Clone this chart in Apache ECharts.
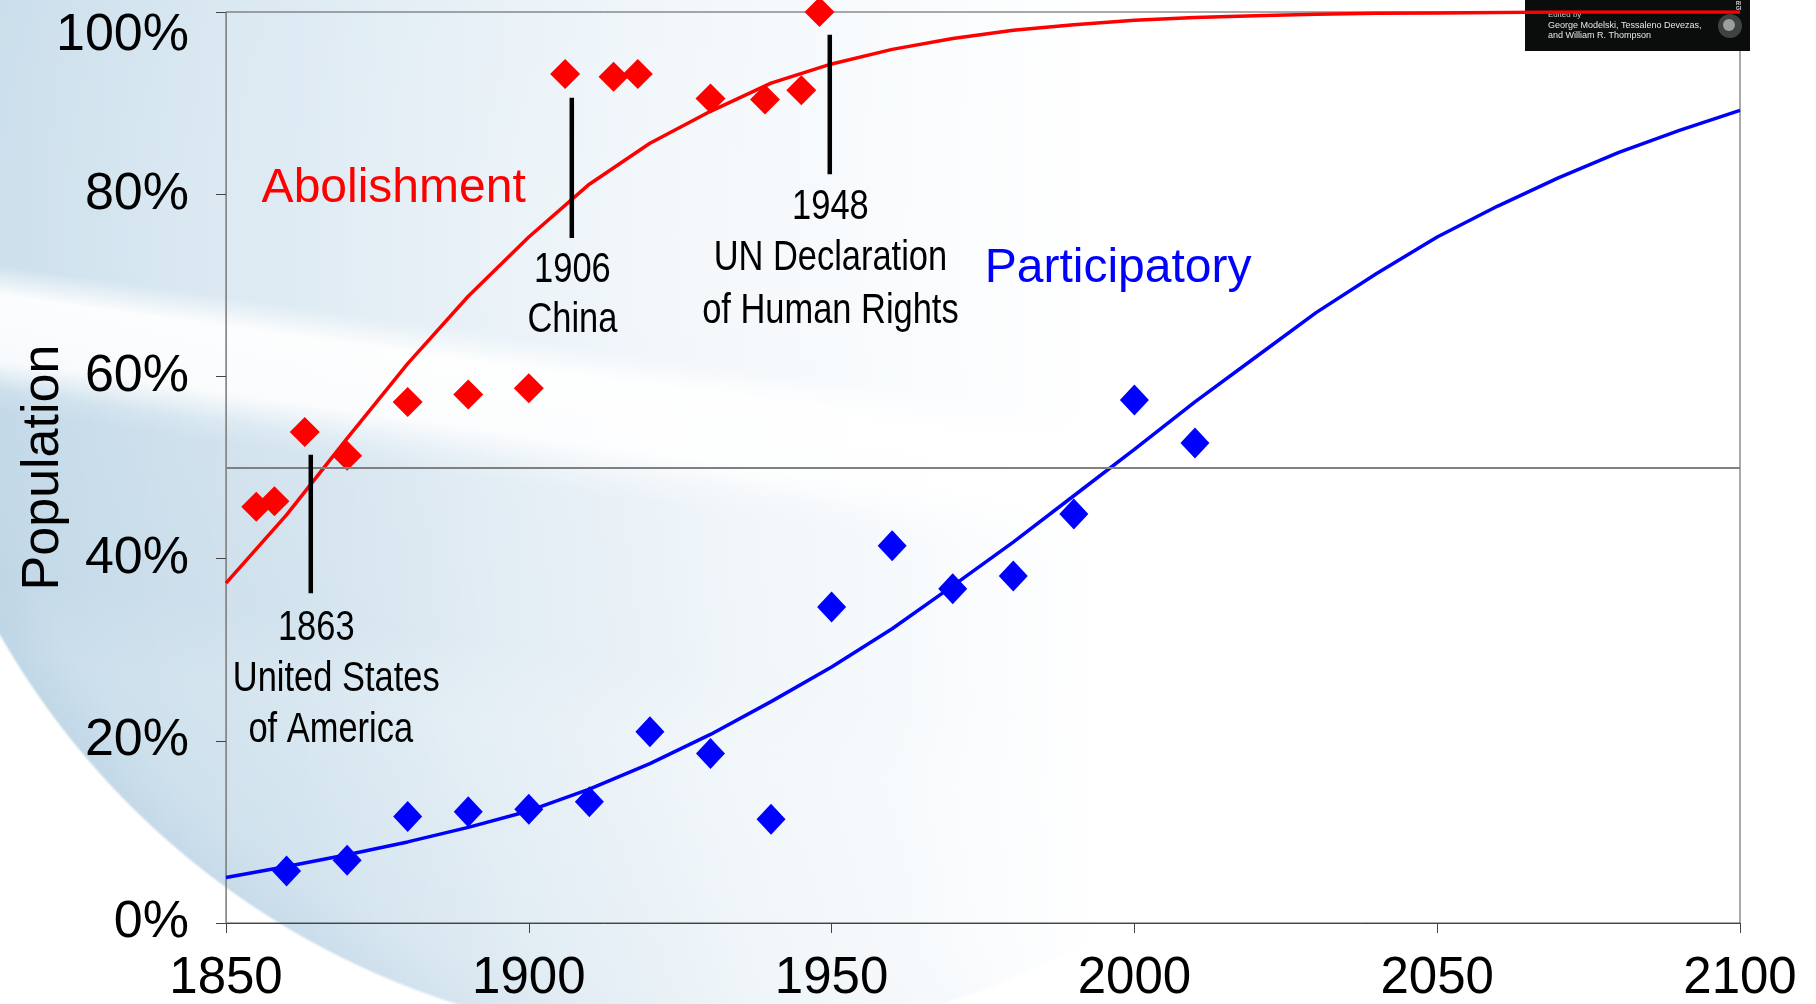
<!DOCTYPE html>
<html>
<head>
<meta charset="utf-8">
<title>Abolishment and Participatory</title>
<script src="https://cdn.jsdelivr.net/npm/echarts@6/dist/echarts.min.js"></script>
<style>
  html, body { margin: 0; padding: 0; background: #fff; }
  #chart {
    width: 1816px;
    height: 1004px;
    background:
      linear-gradient(to right, rgba(255,255,255,0) 0px, rgba(255,255,255,0.15) 300px, rgba(255,255,255,0.7) 750px, #fff 1100px),
      linear-gradient(188deg, rgba(255,255,255,0) 515px, rgba(255,255,255,0.92) 545px, rgba(255,255,255,0.85) 610px, rgba(255,255,255,0) 640px),
      linear-gradient(188deg, rgba(160,192,216,0) 640px, rgba(160,192,216,0.18) 660px, rgba(160,192,216,0.18) 820px, rgba(160,192,216,0) 900px),
      radial-gradient(circle 804px at 700px 236px, #e1edf5 0%, #d8e7f1 60%, #cadeeb 94%, #c0d7e7 100%, #ffffff 100.4%);
  }
</style>
</head>
<body>
<div id="chart"></div>
<script>
  // fitted curves, read every 10 years
  var curveYears = [1850, 1860, 1870, 1880, 1890, 1900, 1910, 1920, 1930, 1940, 1950, 1960, 1970,
    1980, 1990, 2000, 2010, 2020, 2030, 2040, 2050, 2060, 2070, 2080, 2090, 2100];
  var abolishmentFit = [37.3, 44.8, 53.2, 61.4, 68.8, 75.3, 81.1, 85.6, 89.1, 92.2, 94.3, 95.9, 97.1,
    98.0, 98.6, 99.1, 99.4, 99.6, 99.75, 99.85, 99.9, 99.95, 100, 100, 100, 100];
  var participatoryFit = [5.0, 6.2, 7.5, 8.9, 10.5, 12.3, 14.7, 17.5, 20.7, 24.3, 28.1, 32.3, 37.0,
    41.8, 46.9, 52.0, 57.2, 62.1, 67.0, 71.3, 75.3, 78.7, 81.8, 84.6, 87.0, 89.2];

  // observed points
  var abolishmentYears = [1855, 1858, 1863, 1870, 1880, 1890, 1900, 1906, 1914, 1918, 1930, 1939, 1945, 1948];
  var abolishmentValues = [45.7, 46.3, 53.9, 51.3, 57.2, 58.0, 58.7, 93.2, 92.9, 93.2, 90.5, 90.4, 91.4, 100];
  var participatoryYears = [1860, 1870, 1880, 1890, 1900, 1910, 1920, 1930, 1940, 1950, 1960, 1970, 1980, 1990, 2000, 2010];
  var participatoryValues = [5.7, 6.9, 11.7, 12.2, 12.5, 13.3, 21.0, 18.6, 11.4, 34.7, 41.4, 36.7, 38.1, 44.9, 57.4, 52.7];

  // event markers
  var eventYears = [1864.0, 1907.1, 1949.7];
  var eventLow = [36.2, 75.2, 82.2];
  var eventHigh = [51.4, 90.6, 97.5];

  var noteTexts = ['1863', 'United States', 'of America', '1906', 'China', '1948', 'UN Declaration', 'of Human Rights'];
  var noteYears = [1864.9, 1868.2, 1867.3, 1907.2, 1907.2, 1949.8, 1949.8, 1949.8];
  var noteValues = [32.3, 26.7, 21.1, 71.6, 66.1, 78.5, 72.9, 67.1];

  var seriesNames = ['Abolishment', 'Participatory'];
  var seriesNameYears = [1855.8, 1975.2];
  var seriesNameValues = [80.6, 71.8];
  var seriesColors = ['#ff0000', '#0000ff'];

  var yTicks = [0, 20, 40, 60, 80, 100];

  function zip(xs, ys) {
    var out = [];
    for (var i = 0; i < xs.length; i++) {
      out.push([xs[i], ys[i]]);
    }
    return out;
  }

  var sans = '"Liberation Sans", Arial, sans-serif';

  var series = [
    {
      name: 'Abolishment fit',
      type: 'line',
      data: zip(curveYears, abolishmentFit),
      showSymbol: false,
      lineStyle: { color: seriesColors[0], width: 3.5 },
      z: 3,
      markLine: {
        silent: true,
        symbol: 'none',
        label: { show: false },
        lineStyle: { color: '#808080', width: 2, type: 'solid' },
        data: [{ yAxis: 50 }]
      }
    },
    {
      name: 'Participatory fit',
      type: 'line',
      data: zip(curveYears, participatoryFit),
      showSymbol: false,
      lineStyle: { color: seriesColors[1], width: 3.5 },
      z: 3
    },
    {
      name: 'Abolishment',
      type: 'scatter',
      symbol: 'diamond',
      symbolSize: [30, 30],
      clip: false,
      itemStyle: { color: seriesColors[0], opacity: 1 },
      data: zip(abolishmentYears, abolishmentValues),
      z: 4
    },
    {
      name: 'Participatory',
      type: 'scatter',
      symbol: 'diamond',
      symbolSize: [29, 31],
      clip: false,
      itemStyle: { color: seriesColors[1], opacity: 1 },
      data: zip(participatoryYears, participatoryValues),
      z: 4
    }
  ];

  for (var i = 0; i < eventYears.length; i++) {
    series.push({
      type: 'line',
      data: [[eventYears[i], eventLow[i]], [eventYears[i], eventHigh[i]]],
      showSymbol: false,
      lineStyle: { color: '#000', width: 4.5 },
      z: 5
    });
  }

  series.push({
    type: 'scatter',
    symbolSize: 1,
    itemStyle: { color: 'rgba(0,0,0,0)', opacity: 1 },
    data: seriesNames.map(function (t, i) {
      return {
        name: t,
        value: [seriesNameYears[i], seriesNameValues[i]],
        label: { color: seriesColors[i] }
      };
    }),
    label: {
      show: true,
      position: 'right',
      distance: 0,
      formatter: function (p) { return p.name; },
      fontFamily: sans,
      fontSize: 48
    },
    z: 6
  });

  var chart = echarts.init(document.getElementById('chart'));
  chart.setOption({
    backgroundColor: 'transparent',
    animation: false,
    grid: {
      left: 226, right: 76, top: 12, bottom: 81,
      containLabel: false,
      outerBoundsMode: 'none',
      show: true, borderColor: '#555', borderWidth: 1
    },
    xAxis: {
      type: 'value',
      min: 1850,
      max: 2100,
      interval: 50,
      axisLine: { show: true, lineStyle: { color: '#444', width: 1 } },
      axisTick: { show: true, length: 10, lineStyle: { color: '#444' } },
      axisLabel: {
        fontSize: 51, color: '#000', margin: 30, fontFamily: sans,
        formatter: function (v) { return String(v); }
      },
      splitLine: { show: false }
    },
    yAxis: {
      type: 'value',
      min: yTicks[0],
      max: yTicks[yTicks.length - 1],
      interval: 20,
      name: 'Population',
      nameLocation: 'middle',
      nameRotate: 90,
      nameGap: 156,
      nameMoveOverlap: false,
      nameTextStyle: { fontSize: 52, color: '#000', fontFamily: sans },
      axisLine: { show: true, onZero: false, lineStyle: { color: '#888', width: 1 } },
      axisTick: { show: true, length: 10, lineStyle: { color: '#444' } },
      axisLabel: {
        margin: 37,
        formatter: function (v) {
          return v === 100 ? '{t|100%}' : '{n|' + v + '%}';
        },
        rich: {
          t: { fontSize: 52, color: '#000', fontFamily: sans, padding: [48, 0, 0, 0] },
          n: { fontSize: 52, color: '#000', fontFamily: sans }
        }
      },
      splitLine: { show: false }
    },
    series: series
  });

  // condensed annotation text, placed through the axis scales
  var graphics = noteTexts.map(function (t, i) {
    var p = chart.convertToPixel({ xAxisIndex: 0, yAxisIndex: 0 }, [noteYears[i], noteValues[i]]);
    return {
      type: 'text',
      x: p[0],
      y: p[1],
      scaleX: 0.82,
      z: 50,
      style: {
        text: t,
        font: '42px ' + sans,
        fill: '#000',
        align: 'center',
        verticalAlign: 'middle'
      }
    };
  });

  // book cover thumbnail in the corner
  graphics.push({
    type: 'group',
    x: 1525,
    y: 0,
    z: 100,
    children: [
      { type: 'rect', shape: { x: 0, y: 0, width: 225, height: 51 }, style: { fill: '#0b0d0c' } },
      { type: 'text', x: 23, y: 15, style: { text: 'Edited by', fill: '#c8c8c8', font: '8px ' + sans, verticalAlign: 'middle' } },
      { type: 'text', x: 23, y: 26, style: { text: 'George Modelski, Tessaleno Devezas,', fill: '#e6e6e6', font: '9px ' + sans, verticalAlign: 'middle' } },
      { type: 'text', x: 23, y: 36, style: { text: 'and William R. Thompson', fill: '#e6e6e6', font: '9px ' + sans, verticalAlign: 'middle' } },
      { type: 'circle', shape: { cx: 205, cy: 26, r: 12 }, style: { fill: '#3e4341' } },
      { type: 'circle', shape: { cx: 204, cy: 25, r: 6 }, style: { fill: '#9aa09d' } },
      { type: 'text', x: 211, y: 1, style: { text: 'RI\nGI', fill: '#ddd', font: 'bold 5px ' + sans } }
    ]
  });

  chart.setOption({ graphic: graphics });
</script>
</body>
</html>
